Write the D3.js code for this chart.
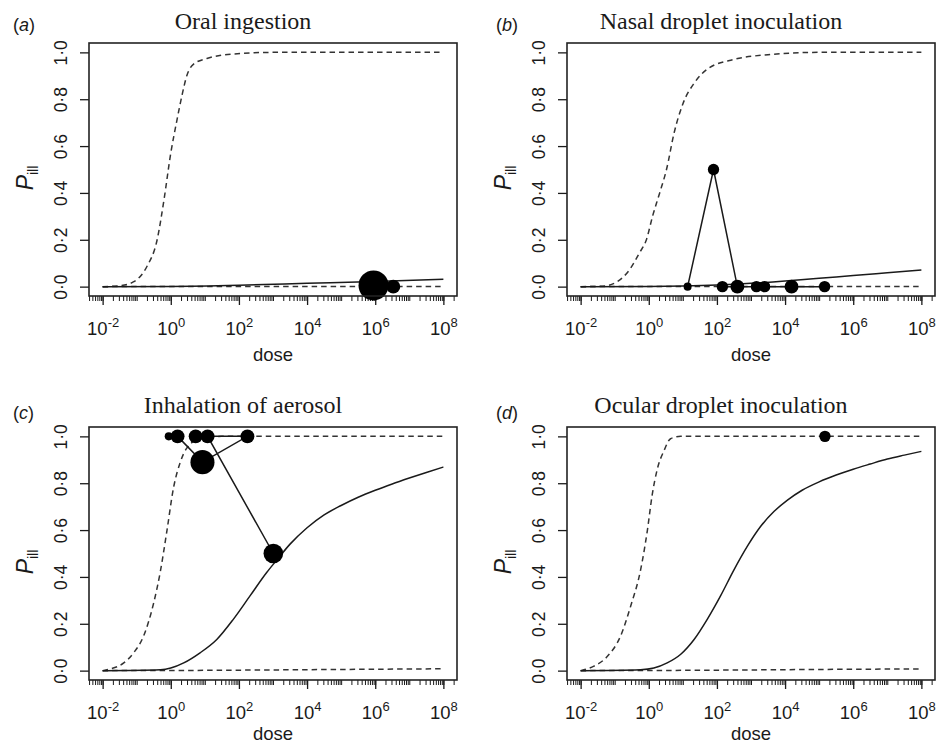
<!DOCTYPE html>
<html><head><meta charset="utf-8">
<title>Dose-response by exposure route</title>
<script src="https://cdn.jsdelivr.net/npm/d3@7"></script>
<style>
  body { margin: 0; background: #fff; }
  svg { display: block; }
</style>
</head>
<body>
<svg width="936" height="746"></svg>
<script>
// panel letters and titles
const panelLetters = ["a", "b", "c", "d"];
const panelTitles = ["Oral ingestion", "Nasal droplet inoculation", "Inhalation of aerosol", "Ocular droplet inoculation"];

// axis ticks
const xTickExps = [-2, 0, 2, 4, 6, 8];
const yTicks = [0, 0.2, 0.4, 0.6, 0.8, 1.0];

// (a) oral ingestion  -- doses as log10
const oralUpperLog = [-2, -1.5, -1.1, -0.7, -0.4, -0.2, 0, 0.18, 0.32, 0.47, 0.67, 1.06, 1.84, 3, 8];
const oralUpperP   = [0, 0.004, 0.02, 0.086, 0.2, 0.37, 0.57, 0.71, 0.81, 0.9, 0.95, 0.974, 0.993, 1, 1];
const oralMidLog = [-2, 0, 2, 4, 6, 8];
const oralMidP   = [0, 0.001, 0.006, 0.014, 0.022, 0.031];
const oralLowLog = [-2, 8];
const oralLowP   = [0, 0.001];
const oralObsLog = [5.95, 6.53];
const oralObsP   = [0.005, 0];
const oralObsN   = [14, 3];

// (b) nasal droplet
const nasalUpperLog = [-2, -1.35, -0.94, -0.56, -0.27, -0.07, 0.11, 0.32, 0.52, 0.75, 1.0, 1.34, 1.73, 2.5, 3.5, 5, 8];
const nasalUpperP   = [0, 0.002, 0.02, 0.073, 0.145, 0.2, 0.3, 0.4, 0.5, 0.66, 0.78, 0.87, 0.93, 0.97, 0.99, 1, 1];
const nasalMidLog = [-2, 0, 1, 2, 3, 4, 5, 6, 7, 8];
const nasalMidP   = [0, 0.001, 0.003, 0.007, 0.014, 0.024, 0.036, 0.047, 0.059, 0.071];
const nasalLowLog = [-2, 8];
const nasalLowP   = [0, 0.001];
const nasalObsLog = [1.14, 1.9, 2.6, 2.16, 3.16, 3.4, 4.19, 5.16];
const nasalObsP   = [0, 0.5, 0, 0, 0, 0, 0, 0];
const nasalObsN   = [1, 2, 3, 2, 2, 2, 3, 2];

// (c) aerosol
const aerosolUpperLog = [-2, -1.78, -1.38, -1.09, -0.8, -0.5, -0.31, -0.11, 0.08, 0.28, 0.47, 0.86, 1.5, 8];
const aerosolUpperP   = [0, 0.007, 0.033, 0.076, 0.147, 0.29, 0.42, 0.6, 0.78, 0.89, 0.95, 0.99, 1, 1];
const aerosolMidLog = [-2, -0.3, 0, 0.38, 0.86, 1.35, 1.84, 2.33, 2.82, 3.1, 3.5, 4, 4.5, 5, 5.5, 6, 6.5, 7, 7.5, 8];
const aerosolMidP   = [0, 0.004, 0.011, 0.033, 0.076, 0.133, 0.22, 0.32, 0.42, 0.47, 0.54, 0.61, 0.665, 0.705, 0.74, 0.77, 0.797, 0.822, 0.846, 0.869];
const aerosolLowLog = [-2, 0, 2, 4, 6, 8];
const aerosolLowP   = [0, 0.0005, 0.002, 0.004, 0.006, 0.008];
const aerosolObsLog = [-0.06, 0.2, 0.93, 2.25, 0.73, 1.08, 3.01];
const aerosolObsP   = [1, 1, 0.89, 1, 1, 1, 0.5];
const aerosolObsN   = [1, 3, 9, 3, 3, 3, 6];

// (d) ocular droplet
const ocularUpperLog = [-2, -1.61, -1.22, -0.83, -0.53, -0.24, -0.04, 0.1, 0.25, 0.45, 0.64, 0.94, 8];
const ocularUpperP   = [0, 0.019, 0.06, 0.147, 0.276, 0.43, 0.6, 0.75, 0.86, 0.94, 0.99, 1, 1];
const ocularMidLog = [-2, -0.24, 0.15, 0.54, 0.93, 1.33, 1.72, 2.11, 2.5, 2.89, 3.28, 3.68, 4.07, 4.5, 5, 5.5, 6, 6.5, 7, 7.5, 8];
const ocularMidP   = [0, 0.004, 0.011, 0.033, 0.069, 0.133, 0.22, 0.32, 0.43, 0.53, 0.615, 0.68, 0.728, 0.77, 0.806, 0.835, 0.86, 0.882, 0.903, 0.92, 0.936];
const ocularLowLog = [-2, 0, 2, 4, 6, 8];
const ocularLowP   = [0, 0.0005, 0.002, 0.004, 0.006, 0.007];
const ocularObsLog = [5.17];
const ocularObsP   = [1];
const ocularObsN   = [2];

const zip = (a, b) => a.map((v, i) => [v, b[i]]);
const panels = [
  {upper: zip(oralUpperLog, oralUpperP), mid: zip(oralMidLog, oralMidP), low: zip(oralLowLog, oralLowP),
   obs: oralObsLog.map((v, i) => ({ld: v, p: oralObsP[i], n: oralObsN[i]}))},
  {upper: zip(nasalUpperLog, nasalUpperP), mid: zip(nasalMidLog, nasalMidP), low: zip(nasalLowLog, nasalLowP),
   obs: nasalObsLog.map((v, i) => ({ld: v, p: nasalObsP[i], n: nasalObsN[i]}))},
  {upper: zip(aerosolUpperLog, aerosolUpperP), mid: zip(aerosolMidLog, aerosolMidP), low: zip(aerosolLowLog, aerosolLowP),
   obs: aerosolObsLog.map((v, i) => ({ld: v, p: aerosolObsP[i], n: aerosolObsN[i]}))},
  {upper: zip(ocularUpperLog, ocularUpperP), mid: zip(ocularMidLog, ocularMidP), low: zip(ocularLowLog, ocularLowP),
   obs: ocularObsLog.map((v, i) => ({ld: v, p: ocularObsP[i], n: ocularObsN[i]}))}
];

// layout
const colOff = [0, 478], rowOff = [0, 384];
const box = {left: 89, right: 457, top: 43, bottom: 296};
const sans = "'Liberation Sans', Arial, Helvetica, sans-serif";
const serif = "'Liberation Serif', 'Times New Roman', serif";
const ink = "#1a1a1a";

const x = d3.scaleLog()
            .domain([Math.pow(10, -2.4), Math.pow(10, 8.4)])
            .range([box.left, box.right]);
const y = d3.scaleLinear()
            .domain([-0.04, 1.04])
            .range([box.bottom, box.top]);
const r = d3.scaleSqrt().domain([0, 14]).range([0, 15]);

// minor ticks at k * 10^e inside the box
const minorTicks = [];
for (let e = -3; e <= 8; e++) {
  for (let k = 1; k <= 9; k++) {
    const v = k * Math.pow(10, e);
    if (v >= x.domain()[0] && v <= x.domain()[1]) minorTicks.push(v);
  }
}

const line = d3.line()
               .x(d => x(Math.pow(10, d[0])))
               .y(d => y(d[1]))
               .curve(d3.curveMonotoneX);
const obsLine = d3.line()
                  .x(d => x(Math.pow(10, d.ld)))
                  .y(d => y(d.p));

const svg = d3.select("svg");

panels.forEach((p, i) => {
  const col = i % 2, row = Math.floor(i / 2);
  const g = svg.append("g")
               .attr("transform", "translate(" + colOff[col] + "," + rowOff[row] + ")");

  // x minor ticks
  g.append("g")
    .attr("transform", "translate(0," + box.bottom + ")")
    .call(d3.axisBottom(x).tickValues(minorTicks).tickSize(5).tickFormat(""))
    .call(a => a.select(".domain").remove())
    .selectAll("line").attr("stroke", ink).attr("stroke-width", 1);

  // x major ticks with 10^k labels
  const xa = g.append("g")
    .attr("transform", "translate(0," + box.bottom + ")")
    .call(d3.axisBottom(x).tickValues(xTickExps.map(e => Math.pow(10, e))).tickSize(9).tickFormat(""));
  xa.select(".domain").remove();
  xa.selectAll("line").attr("stroke", ink).attr("stroke-width", 1.3);
  xa.selectAll(".tick text")
    .attr("y", 0).attr("dy", 0)
    .attr("transform", "translate(0,39)")
    .style("font-family", sans).style("font-size", "18.5px").attr("fill", ink)
    .each(function(d) {
      const t = d3.select(this);
      t.append("tspan").text("10");
      t.append("tspan").attr("dy", "-8").style("font-size", "13px")
       .text(String(Math.round(Math.log10(d))));
    });

  // y ticks, labels parallel to the axis
  const ya = g.append("g")
    .attr("transform", "translate(" + box.left + ",0)")
    .call(d3.axisLeft(y).tickValues(yTicks).tickSize(9)
            .tickFormat(d => d3.format(".1f")(d).replace(".", "\u00b7")));
  ya.select(".domain").remove();
  ya.selectAll("line").attr("stroke", ink).attr("stroke-width", 1.3);
  ya.selectAll(".tick text")
    .attr("x", 0).attr("dy", 0)
    .attr("text-anchor", "middle")
    .attr("transform", "translate(-22,0) rotate(-90)")
    .style("font-family", sans).style("font-size", "17.5px").attr("fill", ink);

  // curves
  g.append("path").attr("d", line(p.upper))
    .attr("fill", "none").attr("stroke", "#333").attr("stroke-width", 1.5).attr("stroke-dasharray", "5.5,4");
  g.append("path").attr("d", line(p.low))
    .attr("fill", "none").attr("stroke", "#333").attr("stroke-width", 1.5).attr("stroke-dasharray", "5.5,4");
  g.append("path").attr("d", line(p.mid))
    .attr("fill", "none").attr("stroke", ink).attr("stroke-width", 1.5);

  // observed proportions, joined in study order
  g.append("path").attr("d", obsLine(p.obs))
    .attr("fill", "none").attr("stroke", ink).attr("stroke-width", 1.5);
  g.selectAll("circle.obs")
    .data(p.obs)
    .join("circle")
      .attr("class", "obs")
      .attr("cx", d => x(Math.pow(10, d.ld)))
      .attr("cy", d => y(d.p))
      .attr("r", d => r(d.n))
      .attr("fill", "#000");

  // plot box
  g.append("rect")
    .attr("x", box.left).attr("y", box.top)
    .attr("width", box.right - box.left).attr("height", box.bottom - box.top)
    .attr("fill", "none").attr("stroke", "#222").attr("stroke-width", 1.6);

  // title
  g.append("text")
    .attr("x", 243).attr("y", 29)
    .attr("text-anchor", "middle")
    .style("font-family", serif).style("font-size", "24px").attr("fill", ink)
    .text(panelTitles[i]);

  // panel letter
  const lab = g.append("text")
    .attr("x", col === 0 ? 13 : 18).attr("y", row === 0 ? 31 : 35)
    .style("font-family", sans).style("font-size", "18px").attr("fill", ink);
  lab.append("tspan").text("(");
  lab.append("tspan").style("font-style", "italic").text(panelLetters[i]);
  lab.append("tspan").text(")");

  // axis titles
  g.append("text")
    .attr("x", (box.left + box.right) / 2).attr("y", row === 0 ? 361 : 356)
    .attr("text-anchor", "middle")
    .style("font-family", sans).style("font-size", "18.5px").attr("fill", ink)
    .text("dose");

  const yl = g.append("text")
    .attr("text-anchor", "middle")
    .attr("transform", "translate(33,178) rotate(-90)")
    .style("font-family", sans).attr("fill", ink);
  yl.append("tspan").style("font-style", "italic").style("font-size", "23px").text("P");
  yl.append("tspan").attr("dy", 5).style("font-size", "14px").text("ill");
});
</script>
</body></html>
